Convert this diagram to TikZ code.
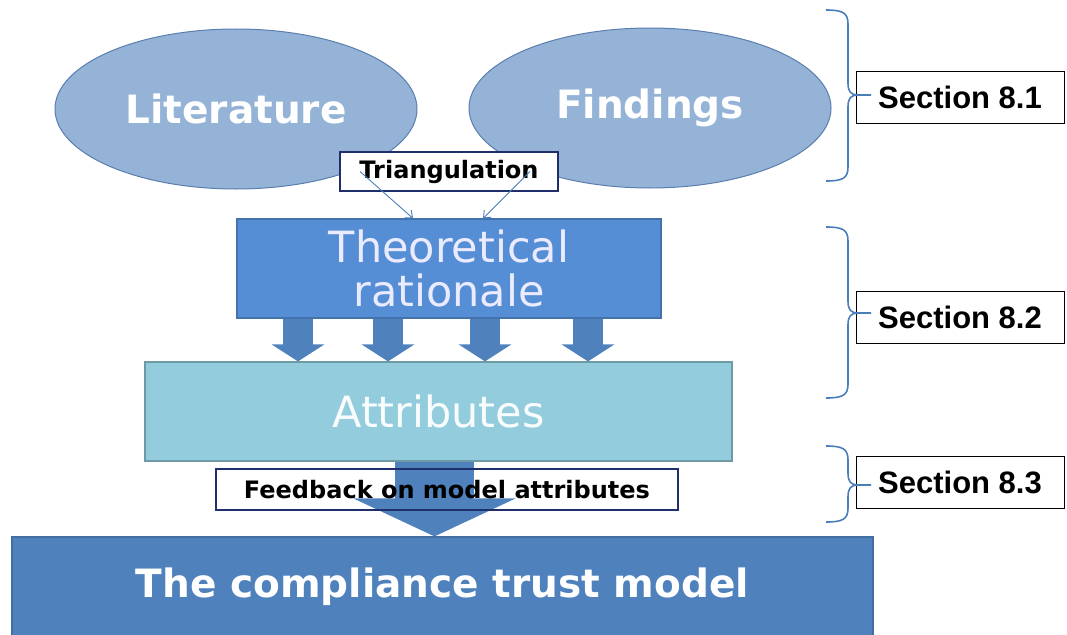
\documentclass[tikz,border=0pt]{standalone}
\usepackage{fontspec}
\setmainfont{DejaVu Sans}
\newfontfamily\arialfont{Liberation Sans}
\usetikzlibrary{shapes.geometric,arrows.meta}

\definecolor{bubblefill}{HTML}{95B3D7}
\definecolor{bubbleline}{HTML}{5A7EAE}
\definecolor{rationalefill}{HTML}{558ED5}
\definecolor{attrfill}{HTML}{93CDDD}
\definecolor{modelfill}{HTML}{4F81BD}
\definecolor{navyline}{HTML}{1F2F6B}
\definecolor{bracketblue}{HTML}{4A7EBB}

\begin{document}
\begin{tikzpicture}[x=1pt, y=-1pt]

% Page size as in the original figure
\useasboundingbox (0,0) rectangle (1067,634);

% Define styles for the shapes
\tikzstyle{bubble}=[ellipse, fill=bubblefill, draw=bubbleline, line width=1pt, minimum width=362pt, minimum height=160pt, text=white, font=\bfseries\fontsize{39}{44}\selectfont]
\tikzstyle{stage}=[rectangle, line width=1.2pt, inner sep=0pt]
\tikzstyle{tag}=[rectangle, draw=navyline, line width=1.4pt, inner sep=0pt, font=\bfseries\fontsize{24}{28}\selectfont]
\tikzstyle{section}=[rectangle, draw=black, fill=white, line width=1pt, minimum width=208pt, minimum height=52pt, inner sep=0pt, font=\arialfont\bfseries\fontsize{31}{36}\selectfont]

% Define styles for the arrows and brackets
\tikzstyle{fatarrow}=[draw=modelfill, line width=30pt, -{Triangle[width=52pt, length=17pt]}]
\tikzstyle{thinarrow}=[draw=bracketblue, line width=0.9pt, -{Straight Barb[length=6pt, width=10pt]}]
\tikzstyle{bracket}=[draw=bracketblue, line width=1.6pt]

% Sources
\node[bubble] (lit) at (236,109) {Literature};
\node[bubble] (find) at (650,108) {Findings};
\node[tag, fill=white, minimum width=218pt, minimum height=39pt] (tri) at (449,171.5) {Triangulation};

% Stages
\node[stage, fill=rationalefill, draw=rationalefill!80!black, minimum width=424pt, minimum height=99pt, align=center, text=blue!8!white, font=\fontsize{43}{44}\selectfont] (theo) at (449,268.5) {Theoretical\\rationale};
\node[stage, fill=attrfill, draw=attrfill!75!black, minimum width=587pt, minimum height=99pt, text=white!94!attrfill, font=\fontsize{43}{44}\selectfont] (attr) at (438.5,411.5) {Attributes};
\node[stage, fill=modelfill, draw=modelfill!85!black, minimum width=861pt, minimum height=100pt, text=white, font=\bfseries\fontsize{39}{44}\selectfont] (model) at (442.5,587) {The compliance trust model};

% Arrows
\draw[thinarrow] ([xshift=-89pt]tri.center) -- ([xshift=-36pt]theo.north);
\draw[thinarrow] ([xshift=81pt]tri.center) -- ([xshift=34pt]theo.north);
\foreach \x in {298,388,485,588}
    \draw[fatarrow] (\x,0 |- theo.south) -- (\x,0 |- attr.north);
\draw[fatarrow, line width=79pt, -{Triangle[width=161pt, length=38pt]}] (434.5,0 |- attr.south) -- (434.5,0 |- model.north);
\node[tag, minimum width=462pt, minimum height=41pt] (feed) at (447,489.5) {Feedback on model attributes};

% Section labels and brackets
\node[section] (sec1) at (960,97) {Section 8.1};
\node[section] (sec2) at (960,317) {Section 8.2};
\node[section] (sec3) at (960,482.5) {Section 8.3};
\foreach \btop/\bmid/\bbot in {10/95/181, 227/313/398, 446/485/522}
    \draw[bracket] (826,\btop) .. controls (843,\btop) and (848,\btop+3) .. (848,\btop+14)
        -- (848,\bmid-12) .. controls (848,\bmid-3) and (851,\bmid) .. (858,\bmid) -- (871,\bmid)
        (858,\bmid) .. controls (851,\bmid) and (848,\bmid+3) .. (848,\bmid+12)
        -- (848,\bbot-14) .. controls (848,\bbot-3) and (843,\bbot) .. (826,\bbot);

\end{tikzpicture}
\end{document}
